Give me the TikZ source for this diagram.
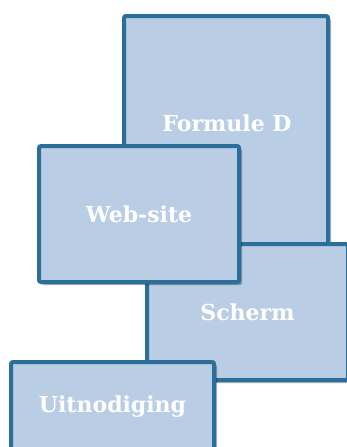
\documentclass[tikz,border=0pt]{standalone}
\usepackage{fontspec}
\setmainfont{DejaVu Serif}
\usepackage{xcolor}
\usepackage{tikz}
\usetikzlibrary{shadows}

\definecolor{vakblauw}{RGB}{185,205,229}
\definecolor{randblauw}{RGB}{43,110,153}

\begin{document}
\begin{tikzpicture}[
        x=1pt, y=-1pt,
        vak/.style={draw=randblauw, line width=4pt, fill=vakblauw, rounded corners=2pt,
            drop shadow={shadow xshift=3pt, shadow yshift=-3pt, opacity=0.3, fill=black},
            minimum width=200pt, minimum height=136pt, inner sep=0pt},
        tekst/.style={text=white, font=\bfseries\fontsize{22}{26}\selectfont, inner sep=0pt}
    ]
    \useasboundingbox (0,0) rectangle (347,447);

    % achterste vak
    \node[vak, minimum width=204pt, minimum height=240pt, anchor=north] (formule) at (226,14) {};
    \node[tekst] (formuletekst) at (227,123) {Formule D};

    % scherm
    \node[vak, minimum width=201pt] (scherm) at (247.5,312) {};
    \node[tekst] (schermtekst) at (scherm.center) {Scherm};

    % web-site
    \node[vak] (website) at (139,214) {};
    \node[tekst] (websitetekst) at (website.center) {Web-site};

    % uitnodiging
    \node[vak, minimum width=203pt, minimum height=90pt] (uitnodiging) at (112.5,407) {};
    \node[tekst] (uitnodigingtekst) at (uitnodiging.center) {Uitnodiging};

\end{tikzpicture}
\end{document}
